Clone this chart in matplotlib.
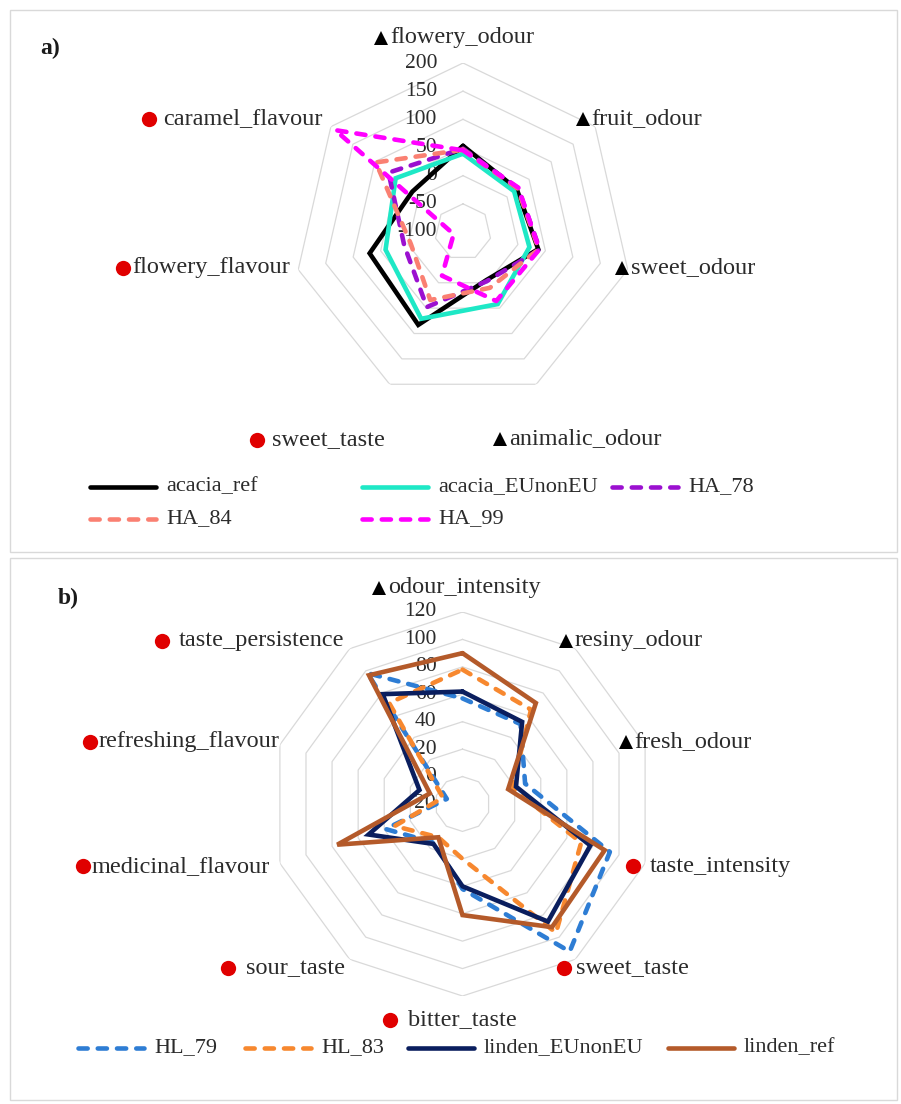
import numpy as np
import matplotlib.pyplot as plt
from matplotlib.lines import Line2D
from matplotlib.patches import Rectangle
from matplotlib.offsetbox import AnnotationBbox, DrawingArea, HPacker, TextArea

plt.rcParams['font.family'] = ['Liberation Serif', 'DejaVu Serif']

W, H = 901, 1104

# a) acacia honey, sensory attributes clockwise from the top
acacia_attrs = ['flowery_odour', 'fruit_odour', 'sweet_odour', 'animalic_odour',
                'sweet_taste', 'flowery_flavour', 'caramel_flavour']
acacia_kinds = ['odour', 'odour', 'odour', 'odour', 'taste', 'taste', 'taste']
acacia_ticks = [-100, -50, 0, 50, 100, 150, 200]
acacia_ref = [53, 22, 37, -5, 83, 70, 15]
acacia_eunoneu = [39, 16, 21, 42, 71, 41, 53]
ha_78 = [48, 25, 40, -3, 48, 7, 69]
ha_84 = [46, 24, 38, 10, 34, -5, 98]
ha_99 = [45, 26, 39, 36, -14, -83, 190]

# b) linden honey
linden_attrs = ['odour_intensity', 'resiny_odour', 'fresh_odour', 'taste_intensity',
                'sweet_taste', 'bitter_taste', 'sour_taste', 'medicinal_flavour',
                'refreshing_flavour', 'taste_persistence']
linden_kinds = ['odour', 'odour', 'odour', 'taste', 'taste', 'taste', 'taste',
                'taste', 'taste', 'taste']
linden_ticks = [-20, 0, 20, 40, 60, 80, 100, 120]
hl_79 = [57, 52, 28, 93, 113, 42, 15, 39, -8, 98]
hl_83 = [78, 65, 18, 71, 96, 20, 10, 32, -5, 71]
linden_eunoneu = [62, 54, 21, 78, 86, 40, 16, 52, 13, 79]
linden_ref = [90, 71, 15, 89, 91, 61, 10, 76, 5, 96]

TXT = '#2b2b2b'
GRID = '#D9D9D9'
RED = '#E00000'
DASH = (0, (2.0, 2.2))


def fx(x):
    return x / W


def fy(y):
    return 1 - y / H


def style(color, dashed):
    kw = dict(color=color, lw=3.3, solid_capstyle='round', solid_joinstyle='miter')
    if dashed:
        kw.update(linestyle=DASH, dash_capstyle='round')
    return kw


def label_box(name, kind, sep):
    da = DrawingArea(11, 11, 0, 0)
    if kind == 'odour':
        da.add_artist(Line2D([5.5], [5.0], marker='^', ms=10.5, color='black', mew=0))
    else:
        da.add_artist(Line2D([5.5], [5.5], marker='o', ms=11, color=RED, mew=0))
    txt = TextArea(name, textprops=dict(fontsize=17.5, color=TXT))
    return HPacker(children=[da, txt], align='center', pad=0, sep=sep)


def radar(ax, attrs, kinds, ticks, series, offsets):
    n = len(attrs)
    theta = np.arange(n + 1) * 2 * np.pi / n
    ax.set_theta_zero_location('N')
    ax.set_theta_direction(-1)
    ax.set_ylim(ticks[0], ticks[-1])
    ax.set_xticks([])
    ax.set_yticks([])
    ax.grid(False)
    ax.spines['polar'].set_visible(False)
    ax.patch.set_alpha(0)

    for v in ticks[1:]:
        ax.plot(theta, [v] * (n + 1), color=GRID, lw=0.9, zorder=1)
    for v in ticks:
        ax.annotate(str(v), xy=(0, v), xytext=(-26, 0), textcoords='offset pixels',
                    ha='right', va='center', fontsize=15.5, color=TXT, zorder=2)

    for vals, color, dashed in series:
        ax.plot(theta, list(vals) + [vals[0]], zorder=3, clip_on=False,
                **style(color, dashed))

    for i, (name, kind) in enumerate(zip(attrs, kinds)):
        dx, dy, halign, sep = offsets[i]
        ab = AnnotationBbox(label_box(name, kind, sep), (theta[i], ticks[-1]),
                            xybox=(dx, dy), boxcoords='offset pixels',
                            box_alignment=(halign, 0.5), frameon=False,
                            annotation_clip=False)
        ax.add_artist(ab)


def legend_row(fig, entries):
    for name, color, dashed, x, y in entries:
        fig.add_artist(Line2D([fx(x), fx(x + 66)], [fy(y), fy(y)],
                              transform=fig.transFigure, **style(color, dashed)))
        fig.text(fx(x + 76), fy(y), name, fontsize=16, color=TXT, va='center')


fig = plt.figure(figsize=(W / 100, H / 100), dpi=100)

# panel frames
fig.add_artist(Rectangle((fx(10), fy(552)), fx(887), 542 / H, transform=fig.transFigure,
                         fill=False, edgecolor=GRID, lw=1))
fig.add_artist(Rectangle((fx(10), fy(1100)), fx(887), 542 / H, transform=fig.transFigure,
                         fill=False, edgecolor=GRID, lw=1))

fig.text(fx(40), fy(48), 'a)', fontsize=17, fontweight='bold', color='#1a1a1a', va='center')
fig.text(fx(58), fy(598), 'b)', fontsize=17, fontweight='bold', color='#1a1a1a', va='center')

# a) radar
ca, ra = (463, 232), 169
ax_a = fig.add_axes([fx(ca[0] - ra), fy(ca[1] + ra), 2 * ra / W, 2 * ra / H],
                    projection='polar')
series_a = [
    (acacia_ref, 'black', False),
    (acacia_eunoneu, '#1EE8C6', False),
    (ha_78, '#9B10D0', True),
    (ha_84, '#FA8072', True),
    (ha_99, '#FF00FF', True),
]
offsets_a = [(-9, 26, 0.5, 1), (-20, 8, 0, 1), (-13, 2, 0, 1), (-44, -54, 0, 1),
             (-5, -56, 1, 5), (-8, 2, 1, 1), (-8, 8, 1, 5)]
radar(ax_a, acacia_attrs, acacia_kinds, acacia_ticks, series_a, offsets_a)

legend_row(fig, [
    ('acacia_ref', 'black', False, 90, 487),
    ('acacia_EUnonEU', '#1EE8C6', False, 362, 487),
    ('HA_78', '#9B10D0', True, 612, 487),
    ('HA_84', '#FA8072', True, 90, 519),
    ('HA_99', '#FF00FF', True, 362, 519),
])

# b) radar
cb, rb = (462.5, 804), 192
ax_b = fig.add_axes([fx(cb[0] - rb), fy(cb[1] + rb), 2 * rb / W, 2 * rb / H],
                    projection='polar')
series_b = [
    (hl_79, '#2E7DD4', True),
    (hl_83, '#F7882F', True),
    (linden_eunoneu, '#0A1E5E', False),
    (linden_ref, '#B45A2A', False),
]
offsets_b = [(-6, 25, 0.5, 1), (-17, 8, 0, 1), (-27, 3, 0, 1), (-20, -3, 0, 7),
             (-19, -9, 0, 3), (-13, -24, 0.5, 7), (-5, -9, 1, 7), (-10, -3, 1, 1),
             (0, 3, 1, 1), (-5, 8, 1, 7)]
radar(ax_b, linden_attrs, linden_kinds, linden_ticks, series_b, offsets_b)

legend_row(fig, [
    ('HL_79', '#2E7DD4', True, 78, 1048),
    ('HL_83', '#F7882F', True, 245, 1048),
    ('linden_EUnonEU', '#0A1E5E', False, 408, 1048),
    ('linden_ref', '#B45A2A', False, 668, 1048),
])

fig.savefig('out.png', dpi=100, facecolor='white')
